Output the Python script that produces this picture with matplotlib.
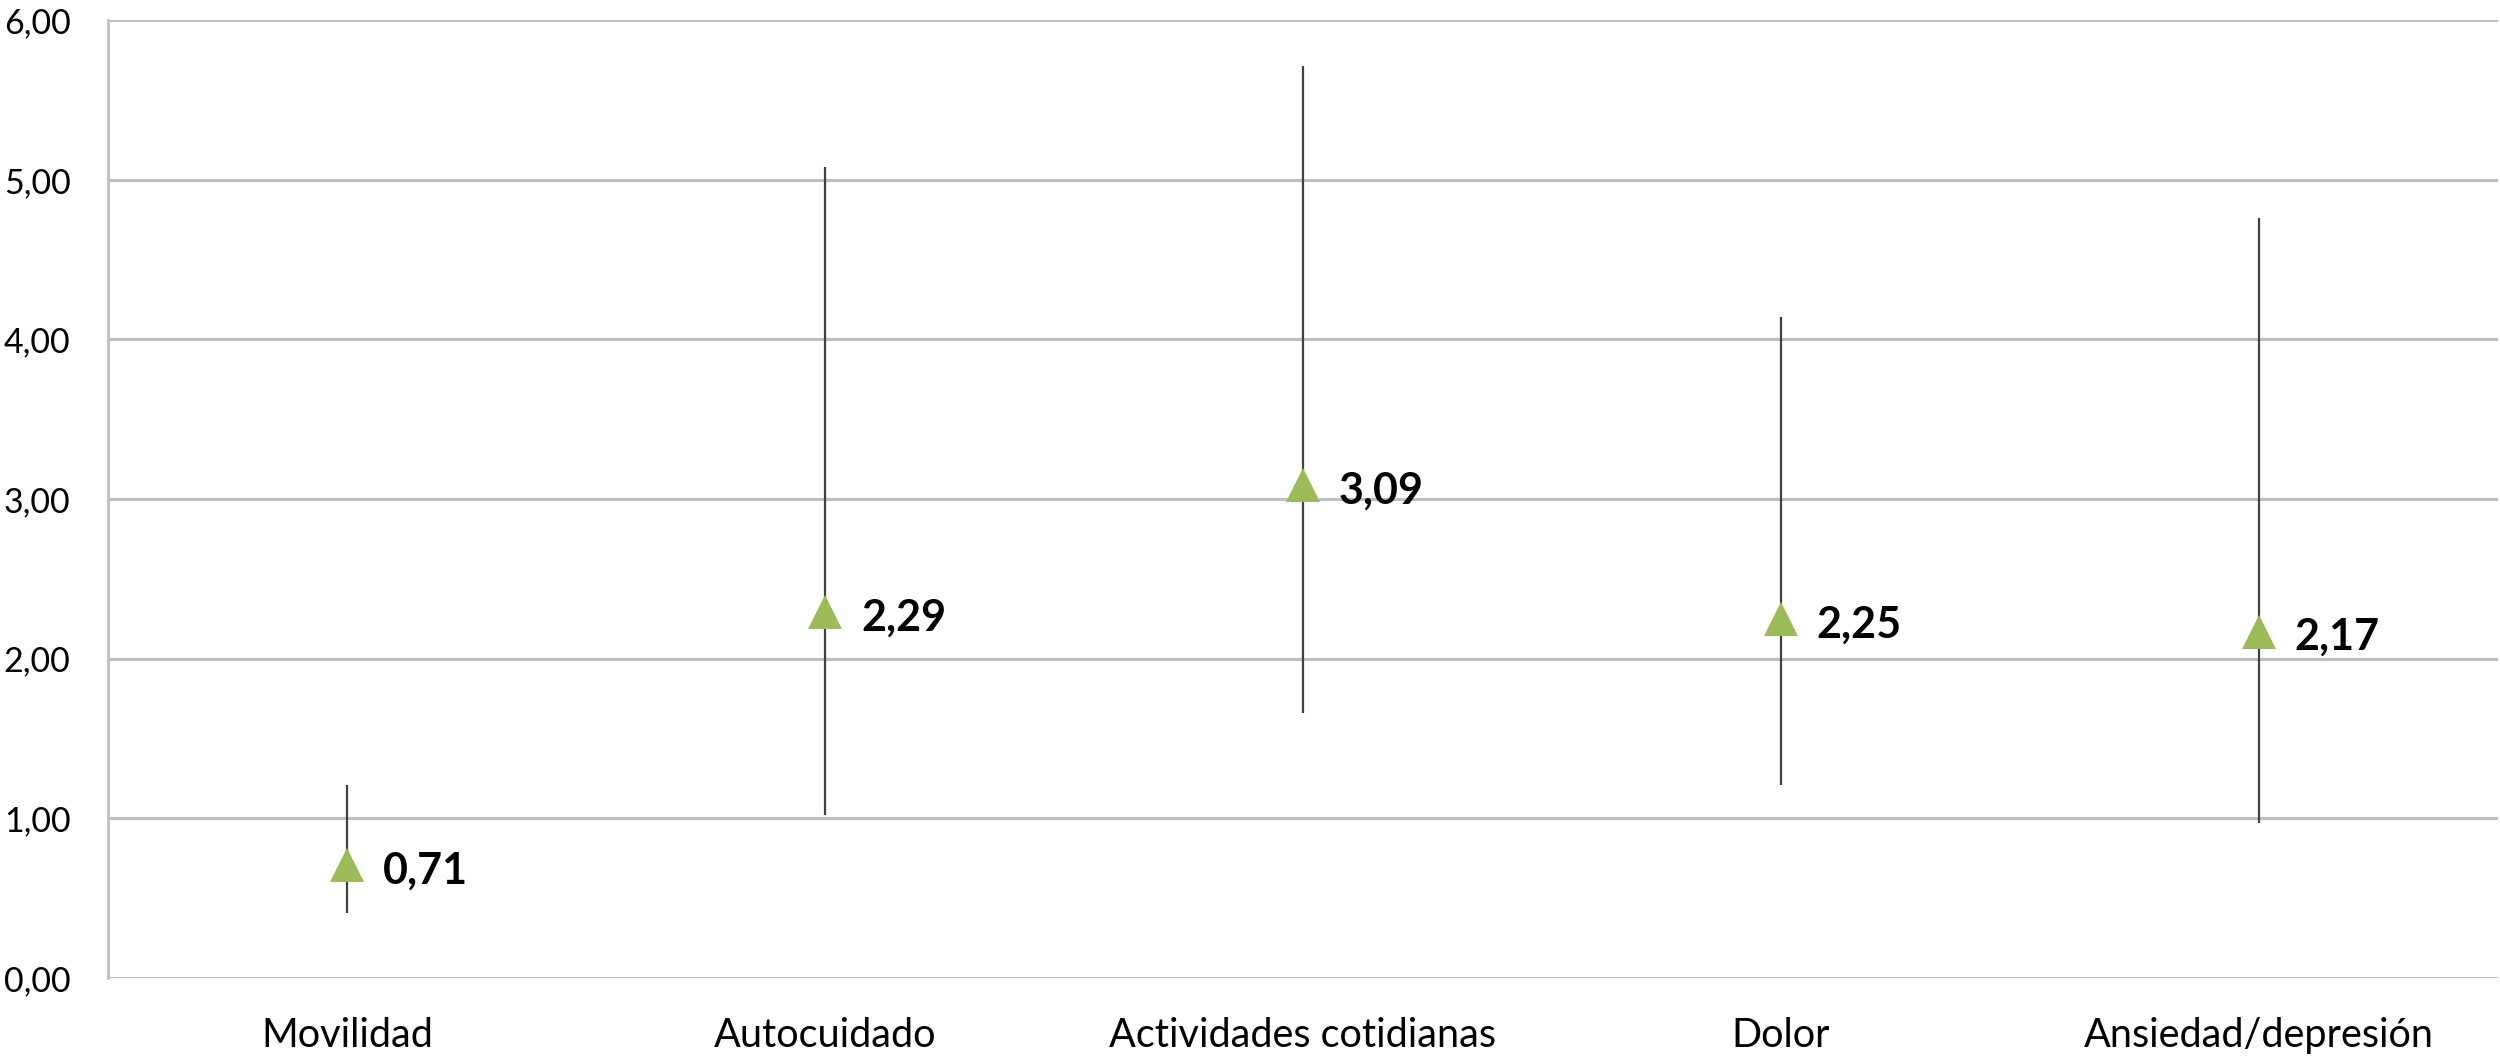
import numpy as np
import matplotlib.pyplot as plt

# datos
categorias = ['Movilidad', 'Autocuidado', 'Actividades cotidianas', 'Dolor', 'Ansiedad/depresión']
medias = [0.71, 2.29, 3.09, 2.25, 2.17]
limite_inf = [0.41, 1.02, 1.66, 1.21, 0.97]
limite_sup = [1.21, 5.08, 5.71, 4.14, 4.76]
etiquetas = ['0,71', '2,29', '3,09', '2,25', '2,17']
yticks = [0, 1, 2, 3, 4, 5, 6]
ytick_labels = ['0,00', '1,00', '2,00', '3,00', '4,00', '5,00', '6,00']

plt.rcParams['font.family'] = ['Lato', 'DejaVu Sans']

fig = plt.figure(figsize=(25, 10.63), dpi=100)
ax = fig.add_axes([0.0432, 0.080, 0.9558, 0.901])

x = np.arange(len(categorias))
medias = np.array(medias)
err = [medias - np.array(limite_inf), np.array(limite_sup) - medias]

#lineas de error
ax.errorbar(x, medias, yerr=err, fmt='none', ecolor='#404040', elinewidth=1.6, capsize=0, zorder=3)
#triangulos
ax.plot(x, medias, '^', color='#9BBB59', markersize=25, markeredgewidth=0, zorder=4)

for xi, yi, t in zip(x, medias, etiquetas):
    ax.annotate(t, (xi, yi), xytext=(26, -4), textcoords='offset points',
                ha='left', va='center', fontsize=31, fontweight='bold', color='black', zorder=5)

ax.set_xlim(-0.5, len(categorias) - 0.5)
ax.set_ylim(0, 6)
ax.set_yticks(yticks)
ax.set_yticklabels(ytick_labels, fontsize=24.5)
ax.set_xticks(x)
ax.set_xticklabels(categorias, fontsize=28.5)
ax.tick_params(axis='y', length=0, pad=27)
ax.tick_params(axis='x', length=0, pad=28)

ax.grid(axis='y', color='#BFBFBF', linewidth=2.2, zorder=0)
ax.set_axisbelow(True)
for s in ['top', 'right', 'bottom']:
    ax.spines[s].set_visible(False)
ax.spines['left'].set_color('#BFBFBF')
ax.spines['left'].set_linewidth(2)

fig.savefig('out.png', dpi=100)
